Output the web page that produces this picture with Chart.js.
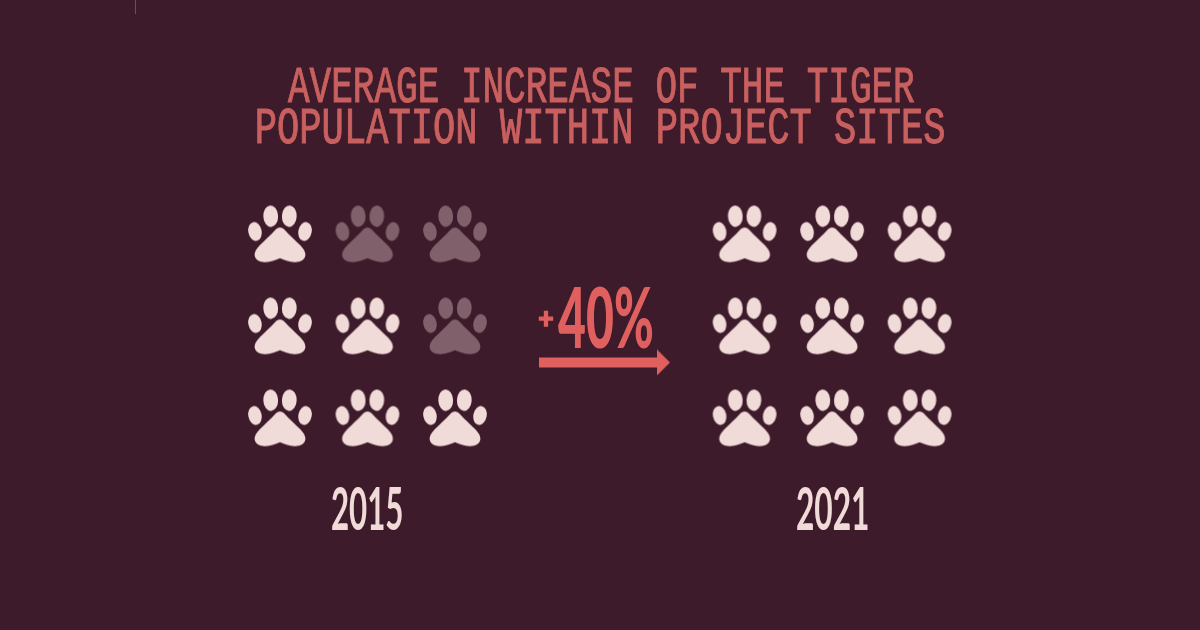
<!DOCTYPE html>
<html><head><meta charset="utf-8">
<style>html,body{margin:0;padding:0;background:#3d1b2a;overflow:hidden}#wrap{position:relative;width:1200px;height:630px}canvas{display:block}</style>
<script src="https://cdn.jsdelivr.net/npm/chart.js@4/dist/chart.umd.min.js"></script>
</head><body><div id="wrap"><canvas id="c" width="1200" height="630"></canvas></div>
<script>
const titleLines = ['AVERAGE INCREASE OF THE TIGER','POPULATION WITHIN PROJECT SITES'];
const years = ['2015','2021'];
const litPawsPerRow2015 = [1, 2, 3];
const litPawsPerRow2021 = [3, 3, 3];
const groupStartColumn = [0, 5.31];
const changeLabel = ['+','40%'];
const arrowColumns = [2.96, 4.377];
const arrowRow = 1.391;

const BG='#3d1b2a', LIGHT='#f1dbd8', DIM='#80606a', TITLE='#c9605f', RED='#e05f5f';

function pawCanvas(color){
  const W=70,H=64,c=document.createElement('canvas');c.width=W;c.height=H;
  const x=c.getContext('2d');x.translate(W/2,H/2-0.5);x.fillStyle=color;
  [[-25,-2.5,6.7,9.5,-0.2],[25,-2.5,6.7,9.5,0.2],[-9.3,-17.8,7.4,10.8,-0.04],[9.3,-17.8,7.4,10.8,0.04]].forEach(e=>{
    x.beginPath();x.ellipse(e[0],e[1],e[2],e[3],e[4],0,Math.PI*2);x.fill();});
  x.beginPath();x.moveTo(0,-6.6);
  x.bezierCurveTo(1.8,-6.6,3.4,-5.6,5,-3.8);
  x.bezierCurveTo(10,1.6,15,6,20,11);
  x.bezierCurveTo(24,15,25.6,18.5,25.4,21);
  x.bezierCurveTo(25,26,20,28.2,15,28.2);
  x.bezierCurveTo(9,28.2,4,25.8,0,24.2);
  x.bezierCurveTo(-4,25.8,-9,28.2,-15,28.2);
  x.bezierCurveTo(-20,28.2,-25,26,-25.4,21);
  x.bezierCurveTo(-25.6,18.5,-24,15,-20,11);
  x.bezierCurveTo(-15,6,-10,1.6,-5,-3.8);
  x.bezierCurveTo(-3.4,-5.6,-1.8,-6.6,0,-6.6);
  x.closePath();x.fill();
  return c;
}
function headCanvas(color){
  const c=document.createElement('canvas');c.width=26;c.height=26;
  const x=c.getContext('2d');x.fillStyle=color;
  x.beginPath();x.moveTo(7,0);x.lineTo(20,13);x.lineTo(7,26);x.closePath();x.fill();
  return c;
}
const pawOn=pawCanvas(LIGHT), pawOff=pawCanvas(DIM), head=headCanvas(RED);

const on=[],off=[];
[litPawsPerRow2015,litPawsPerRow2021].forEach((rows,g)=>{
  rows.forEach((lit,row)=>{
    for(let col=0;col<3;col++){
      (col<lit?on:off).push({x:groupStartColumn[g]+col,y:row});
    }
  });
});

function fit(ctx,text,font,color,left,right,top,bottom,stroke){
  ctx.save();ctx.font=font;ctx.fillStyle=color;ctx.textBaseline='alphabetic';ctx.textAlign='left';
  const m=ctx.measureText(text);
  const sx=(right-left)/(m.actualBoundingBoxRight+m.actualBoundingBoxLeft);
  const sy=(bottom-top)/(m.actualBoundingBoxAscent+m.actualBoundingBoxDescent);
  ctx.translate(left+m.actualBoundingBoxLeft*sx,bottom-m.actualBoundingBoxDescent*sy);
  ctx.scale(sx,sy);ctx.fillText(text,0,0);
  if(stroke){ctx.strokeStyle=color;ctx.lineWidth=stroke;ctx.lineJoin='miter';ctx.strokeText(text,0,0);}
  ctx.restore();
}
const textPlugin={id:'texts',afterDraw(ch){
  const c=ch.ctx;
  fit(c,titleLines[0],'400 50px "Liberation Mono"',TITLE,288,914,67,102,1);
  fit(c,titleLines[1],'400 50px "Liberation Mono"',TITLE,257,944,108,143,1);
  fit(c,years[0],'700 58px Lato',LIGHT,332,402,487,530);
  fit(c,years[1],'700 58px Lato',LIGHT,797,868,487,530);
  fit(c,changeLabel[0],'900 40px Lato',RED,539,553,311,326,2);
  fit(c,changeLabel[1],'900 86px Lato',RED,558,652,286,349);
}};

new Chart(document.getElementById('c'),{
  type:'scatter',
  data:{datasets:[
    {label:'Tiger population',data:on,pointStyle:pawOn,pointRadius:30,pointHoverRadius:30},
    {label:'Missing',data:off,pointStyle:pawOff,pointRadius:30,pointHoverRadius:30},
    {label:'Change',data:arrowColumns.map(x=>({x:x,y:arrowRow})),showLine:true,borderColor:RED,borderWidth:10,
     pointRadius:[0,13],pointStyle:head,borderCapStyle:'butt'}
  ]},
  options:{
    responsive:false,animation:false,devicePixelRatio:1,
    layout:{padding:0,autoPadding:false},
    plugins:{legend:{display:false},title:{display:false},tooltip:{enabled:false}},
    scales:{
      x:{type:'linear',display:false,min:-280/87.5,max:920/87.5},
      y:{type:'linear',display:false,min:-234.5/92,max:395.5/92,reverse:true}
    }
  },
  plugins:[{id:'bg',beforeDraw(ch){const c=ch.ctx;c.save();c.fillStyle=BG;c.fillRect(0,0,1200,630);c.fillStyle='#6b4f5a';c.fillRect(135,0,1,14);c.restore();}},textPlugin]
});
</script></body></html>
